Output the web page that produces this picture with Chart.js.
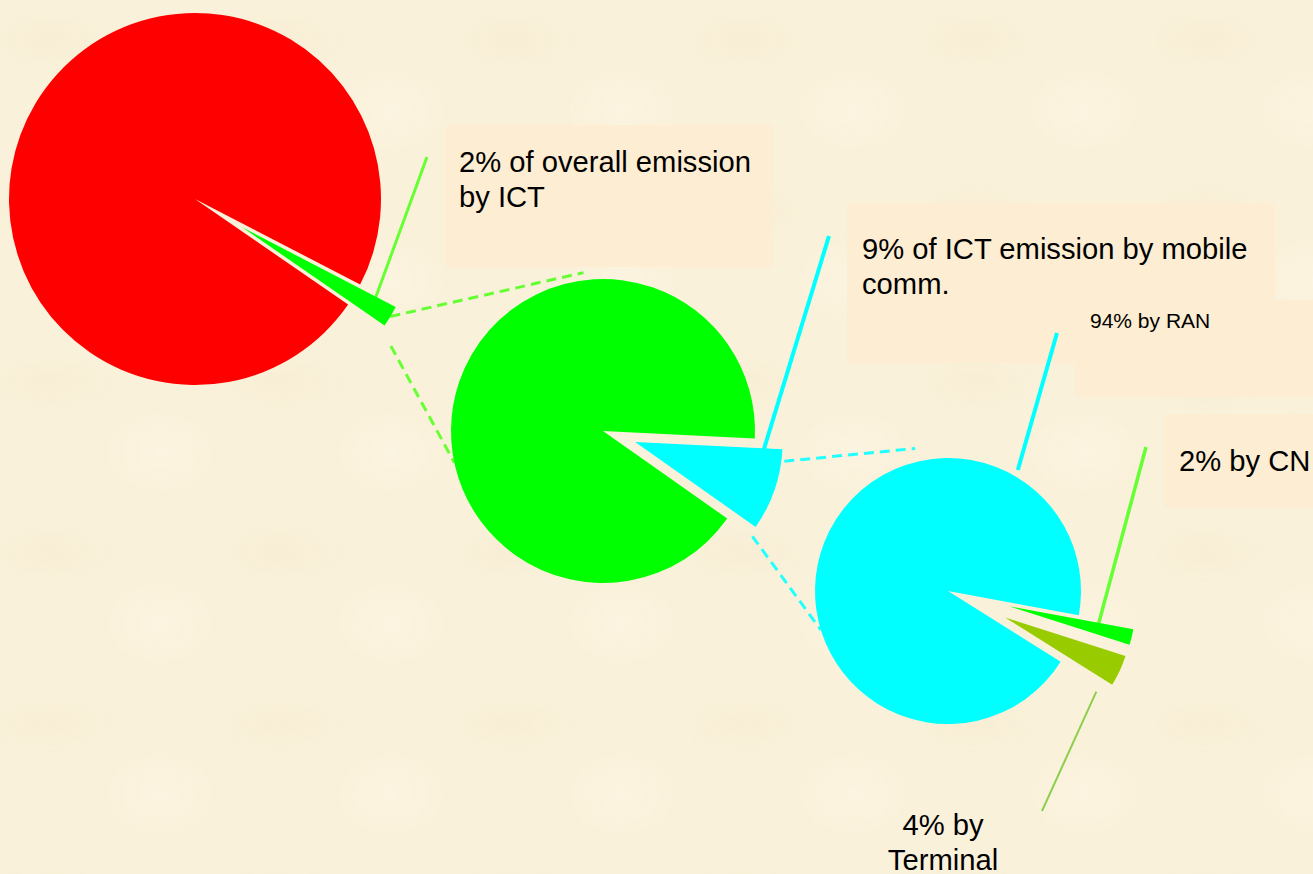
<!DOCTYPE html>
<html>
<head>
<meta charset="utf-8">
<script src="https://cdn.jsdelivr.net/npm/chart.js@4.4.1/dist/chart.umd.min.js"></script>
<style>
html, body { margin: 0; padding: 0; }
body {
  width: 1313px; height: 874px; overflow: hidden; position: relative;
  background-color: #FAF1DA;
  background-image:
    radial-gradient(ellipse 90px 40px at 50px 40px, rgba(240,228,196,0.22), rgba(240,228,196,0) 75%),
    radial-gradient(ellipse 80px 60px at 160px 110px, rgba(255,250,238,0.28), rgba(255,250,238,0) 75%);
  background-size: 231px 171px;
  font-family: "Liberation Sans", Arial, sans-serif;
}
canvas { position: absolute; left: 0; top: 0; }
.box { position: absolute; background: #FDEDD2; }
.lbl { position: absolute; font-size: 29.2px; line-height: 35px; white-space: nowrap; color: #000; }
.small { font-size: 21px; line-height: 25px; }
</style>
</head>
<body>
<div class="box" style="left:445px;top:125px;width:328px;height:142px"></div>
<div class="box" style="left:847px;top:203px;width:428px;height:160px"></div>
<div class="box" style="left:1075px;top:300px;width:238px;height:97px"></div>
<div class="box" style="left:1164px;top:414px;width:149px;height:93px"></div>

<div class="lbl" id="lblOverall" style="left:459px;top:145px"></div>
<div class="lbl" id="lblIct" style="left:862px;top:232px"></div>
<div class="lbl small" id="lblRan" style="left:1090px;top:308px"></div>
<div class="lbl" id="lblCn" style="left:1179px;top:444px"></div>
<div class="lbl" id="lblTerm" style="left:843px;top:808px;width:200px;text-align:center"></div>

<canvas id="overall" width="1313" height="874"></canvas>
<canvas id="ict" width="1313" height="874"></canvas>
<canvas id="mobile" width="1313" height="874"></canvas>

<script>
// ---------------- data ----------------
const overallLabels = ['ICT', 'Other sectors'];
const overallValues = [2, 98];
const ictLabels = ['Mobile communication', 'Other ICT'];
const ictValues = [9, 91];
const mobileLabels = ['CN', 'Terminal', 'RAN'];
const mobileValues = [2, 4, 94];

const overallCallout = [overallValues[0] + '% of overall emission', 'by ' + overallLabels[0]];
const ictCallout = [ictValues[0] + '% of ICT emission by mobile', 'comm.'];
const ranCallout = [mobileValues[2] + '% by ' + mobileLabels[2]];
const cnCallout = [mobileValues[0] + '% by ' + mobileLabels[0]];
const termCallout = [mobileValues[1] + '% by', mobileLabels[1]];

document.getElementById('lblOverall').innerHTML = overallCallout.join('<br>');
document.getElementById('lblIct').innerHTML = ictCallout.join('<br>');
document.getElementById('lblRan').innerHTML = ranCallout.join('<br>');
document.getElementById('lblCn').innerHTML = cnCallout.join('<br>');
document.getElementById('lblTerm').innerHTML = termCallout.join('<br>');

// ---------------- styling / layout ----------------
const W = 1313, H = 874;
const RAD = Math.PI / 180;
const charts = {};

const extras = {
  overall: {
    explode: { 0: { d: 55, s: 0.93 } },
    dashColor: '#66FF33',
    connectors: [
      { from: { i: 0, t: 0.5, rf: 1.0 }, to: { chart: 'ict', i: 1, deg: -97, rf: 1.05 } },
      { from: { i: 0, t: 1, dDeg: 4, rf: 1.1 }, to: { chart: 'ict', i: 1, deg: 168, rf: 1.0 } }
    ],
    leaders: [
      { from: { i: 0, t: 0.5, rf: 0.88 }, to: [427, 157], color: '#66FF33', w: 3 }
    ]
  },
  ict: {
    explode: { 0: { d: 34, s: 0.97 } },
    dashColor: '#22FFFF',
    connectors: [
      { from: { i: 0, t: 0.14, rf: 1.02 }, to: { chart: 'mobile', i: 2, deg: -103, rf: 1.1 } },
      { from: { i: 0, t: 1, dDeg: 3.6, rf: 1.02 }, to: { chart: 'mobile', i: 2, deg: 163, rf: 1.0 } }
    ],
    leaders: [
      { from: { i: 0, t: 0.5, rf: 0.85 }, to: [829, 236], color: '#00FFFF', w: 4 }
    ]
  },
  mobile: {
    explode: { 0: { d: 63, s: 0.95 }, 1: { d: 63, s: 0.95 } },
    dashColor: '#66FF33',
    connectors: [],
    leaders: [
      { from: { i: 2, deg: -60, rf: 1.05 }, to: [1057, 333], color: '#00FFFF', w: 4 },
      { from: { i: 0, t: 0.5, rf: 0.72 }, to: [1146, 447], color: '#66FF33', w: 3.5 },
      { from: { i: 1, t: 1, dDeg: 7, rf: 0.93 }, to: [1042, 811], color: '#8CCF4D', w: 2 }
    ]
  }
};

function geom(chart, i) {
  const el = chart.getDatasetMeta(0).data[i];
  const ex = (extras[chart.canvas.id].explode[i]) || { d: 0, s: 1 };
  const mid = (el.startAngle + el.endAngle) / 2;
  return {
    x: el.x + ex.d * Math.cos(mid),
    y: el.y + ex.d * Math.sin(mid),
    r: el.outerRadius * ex.s,
    a0: el.startAngle, a1: el.endAngle
  };
}
function point(chart, spec) {
  const g = geom(chart, spec.i);
  let ang;
  if (spec.deg !== undefined) ang = spec.deg * RAD;
  else ang = g.a0 + spec.t * (g.a1 - g.a0) + (spec.dDeg || 0) * RAD;
  return [g.x + g.r * spec.rf * Math.cos(ang), g.y + g.r * spec.rf * Math.sin(ang)];
}

const explodePlugin = {
  id: 'explodeLines',
  beforeDatasetsDraw(chart) {
    const ex = extras[chart.canvas.id];
    const ctx = chart.ctx;
    ctx.save();
    ctx.lineCap = 'butt';
    ex.connectors.forEach(c => {
      const target = charts[c.to.chart];
      if (!target) return;
      const p0 = point(chart, c.from);
      const p1 = point(target, c.to);
      ctx.beginPath();
      ctx.setLineDash([10, 6]);
      ctx.strokeStyle = ex.dashColor;
      ctx.lineWidth = 3;
      ctx.moveTo(p0[0], p0[1]);
      ctx.lineTo(p1[0], p1[1]);
      ctx.stroke();
    });
    ex.leaders.forEach(l => {
      const p0 = point(chart, l.from);
      ctx.beginPath();
      ctx.setLineDash([]);
      ctx.strokeStyle = l.color;
      ctx.lineWidth = l.w;
      ctx.moveTo(p0[0], p0[1]);
      ctx.lineTo(l.to[0], l.to[1]);
      ctx.stroke();
    });
    ctx.restore();
    const meta = chart.getDatasetMeta(0);
    ex.saved = [];
    Object.keys(ex.explode).forEach(k => {
      const el = meta.data[k];
      const e = ex.explode[k];
      const mid = (el.startAngle + el.endAngle) / 2;
      ex.saved.push([el, el.x, el.y, el.outerRadius]);
      el.x += e.d * Math.cos(mid);
      el.y += e.d * Math.sin(mid);
      el.outerRadius *= e.s;
    });
  },
  afterDatasetsDraw(chart) {
    const ex = extras[chart.canvas.id];
    (ex.saved || []).forEach(s => { s[0].x = s[1]; s[0].y = s[2]; s[0].outerRadius = s[3]; });
    ex.saved = [];
  }
};

function makePie(id, labels, values, colors, center, radius, rotation) {
  const pad = {
    left: Math.max(0, 2 * center[0] - W),
    right: Math.max(0, W - 2 * center[0]),
    top: Math.max(0, 2 * center[1] - H),
    bottom: Math.max(0, H - 2 * center[1])
  };
  const chart = new Chart(document.getElementById(id), {
    type: 'pie',
    data: {
      labels: labels,
      datasets: [{ data: values, backgroundColor: colors, borderWidth: 0, offset: 0, hoverOffset: 0 }]
    },
    options: {
      responsive: false,
      animation: false,
      events: [],
      rotation: rotation,
      radius: radius,
      layout: { padding: pad },
      plugins: { legend: { display: false }, tooltip: { enabled: false } }
    },
    plugins: [explodePlugin]
  });
  charts[id] = chart;
  return chart;
}

// created from last to first so connectors can find their target pie
makePie('mobile', mobileLabels, mobileValues, ['#00FF00', '#99CC00', '#00FFFF'], [948, 591], 133, 100.5);
makePie('ict', ictLabels, ictValues, ['#00FFFF', '#00FF00'], [603, 431], 152, 92.8);
makePie('overall', overallLabels, overallValues, ['#00FF00', '#FF0000'], [195, 199], 186, 117.4);
</script>
</body>
</html>
